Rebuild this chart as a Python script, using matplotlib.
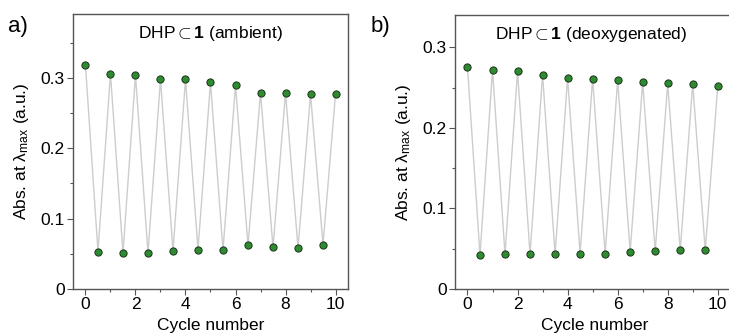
import matplotlib
matplotlib.use('Agg')
import matplotlib.pyplot as plt
from matplotlib.ticker import MultipleLocator

plt.rcParams['font.family'] = ['Liberation Sans', 'DejaVu Sans']
plt.rcParams['mathtext.fontset'] = 'custom'
plt.rcParams['mathtext.rm'] = 'Liberation Sans'
plt.rcParams['mathtext.it'] = 'Liberation Sans:italic'
plt.rcParams['mathtext.bf'] = 'Liberation Sans:bold'

# cycle positions: integer = open form (high), half-integer = closed form (low)
cycles = [0, 0.5, 1, 1.5, 2, 2.5, 3, 3.5, 4, 4.5, 5, 5.5, 6, 6.5, 7, 7.5, 8, 8.5, 9, 9.5, 10]

# panel a) ambient
abs_ambient = [0.318, 0.053, 0.306, 0.051, 0.304, 0.051, 0.298, 0.054, 0.298, 0.056,
               0.294, 0.055, 0.290, 0.062, 0.279, 0.059, 0.279, 0.058, 0.277, 0.063, 0.277]

# panel b) deoxygenated
abs_deoxy = [0.275, 0.042, 0.272, 0.043, 0.270, 0.043, 0.266, 0.043, 0.262, 0.044,
             0.261, 0.044, 0.259, 0.046, 0.2565, 0.047, 0.255, 0.048, 0.254, 0.048, 0.252]

titles = [r'DHP$\subset$$\mathbf{1}$ (ambient)', r'DHP$\subset$$\mathbf{1}$ (deoxygenated)']
panel_labels = ['a)', 'b)']

fig = plt.figure(figsize=(7.29, 3.36), dpi=100)
ax_a = fig.add_axes([0.1001, 0.1399, 0.3773, 0.8185])
# right panel runs off the right edge of the picture, as in the original crop
ax_b = fig.add_axes([0.6241, 0.1399, 0.3845, 0.8155])

spine_col = '#555555'
for ax, y, title, ymax, xmax in [(ax_a, abs_ambient, titles[0], 0.391, 10.5),
                                 (ax_b, abs_deoxy, titles[1], 0.34, 10.7)]:
    ax.plot(cycles, y, color='#cdcdcd', lw=1.0, zorder=1)
    ax.plot(cycles, y, 'o', ms=5.2, mfc='#2e8b30', mec='#1a331a', mew=0.7, zorder=2)
    ax.set_xlim(-0.5, xmax)
    ax.set_ylim(0, ymax)
    ax.xaxis.set_major_locator(MultipleLocator(2))
    ax.xaxis.set_minor_locator(MultipleLocator(1))
    ax.yaxis.set_minor_locator(MultipleLocator(0.05))
    ax.set_yticks([0, 0.1, 0.2, 0.3])
    ax.set_yticklabels(['0', '0.1', '0.2', '0.3'])
    ax.tick_params(which='major', direction='out', length=4, width=0.8, color=spine_col,
                   labelsize=12.5, pad=2)
    ax.tick_params(which='minor', direction='out', length=2.5, width=0.8, color=spine_col)
    for s in ax.spines.values():
        s.set_color(spine_col)
        s.set_linewidth(1.0)
    ax.set_xlabel('Cycle number', fontsize=12.5, labelpad=4)
    ax.set_ylabel(r'Abs. at $\mathrm{\lambda}_{\mathrm{max}}$ (a.u.)', fontsize=12.5, labelpad=7)
    ax.text(0.5 if ax is ax_a else 0.487, 0.93, title, transform=ax.transAxes,
            ha='center', va='center', fontsize=12.5)

fig.text(0.011, 0.905, panel_labels[0], fontsize=16)
fig.text(0.508, 0.905, panel_labels[1], fontsize=16)

fig.savefig('out.png', dpi=100)
